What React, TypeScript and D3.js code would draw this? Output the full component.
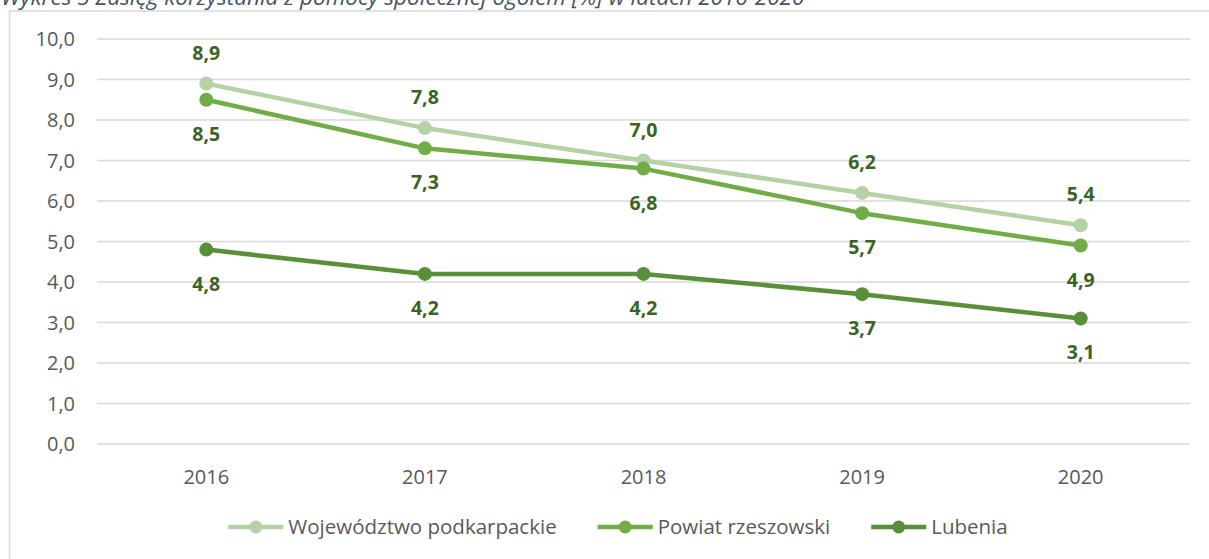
import React, { useEffect, useRef, useState } from "react";
import * as d3 from "d3";

const years = ["2016", "2017", "2018", "2019", "2020"];
const wojewodztwo = [8.9, 7.8, 7.0, 6.2, 5.4];
const powiat = [8.5, 7.3, 6.8, 5.7, 4.9];
const lubenia = [4.8, 4.2, 4.2, 3.7, 3.1];
const seriesNames = ["Województwo podkarpackie", "Powiat rzeszowski", "Lubenia"];
const yTicks = [0, 1, 2, 3, 4, 5, 6, 7, 8, 9, 10];
const title = "Wykres 5 Zasięg korzystania z pomocy społecznej ogółem [%] w latach 2016-2020";

const W = 1209;
const H = 559;
const font = "'Open Sans', Lato, sans-serif";

const series = [
  { name: seriesNames[0], values: wojewodztwo, color: "#b4d2a6", labelPos: "above" },
  { name: seriesNames[1], values: powiat, color: "#70ad47", labelPos: "below" },
  { name: seriesNames[2], values: lubenia, color: "#598f38", labelPos: "below" },
];

const fmt = (v: number) => v.toFixed(1).replace(".", ",");

const App = () => {
  const x = d3.scaleBand().domain(years).range([97, 1190]);
  const y = d3.scaleLinear().domain([0, 10]).range([444, 39]);
  const cx = (yr: string) => (x(yr) as number) + x.bandwidth() / 2;

  const line = d3
    .line<number>()
    .x((_, i) => cx(years[i]))
    .y((d) => y(d));

  const legendRef = useRef<SVGGElement>(null);
  const [legendX, setLegendX] = useState<number[]>([223, 601, 877]);

  useEffect(() => {
    // lay out legend items from measured text widths (legend sits a bit left of plot centre)
    if (!legendRef.current) return;
    const texts = Array.from(legendRef.current.querySelectorAll("text.leg")) as SVGTextElement[];
    const widths = texts.map((t) => t.getComputedTextLength());
    const marker = 55;
    const gap = 41;
    const total = d3.sum(widths) + (marker + 5) * 3 + gap * 2;
    let pos = 618 - total / 2;
    const xs: number[] = [];
    widths.forEach((w) => {
      xs.push(pos);
      pos += marker + 5 + w + gap;
    });
    setLegendX(xs);
  }, []);

  return (
    <div style={{ position: "absolute", left: 0, top: 0 }}>
      <svg width={W} height={H} style={{ display: "block", background: "#fff" }}>
        <text x={1} y={5} fontFamily={font} fontStyle="italic" fontSize={22.5} fill="#44546a">
          {title}
        </text>
        <line x1={9.5} y1={11} x2={W} y2={11} stroke="#d9d9d9" strokeWidth={1.5} />
        <line x1={9.5} y1={11} x2={9.5} y2={H} stroke="#d9d9d9" strokeWidth={1.5} />

        {yTicks.map((t) => (
          <g key={t}>
            <line x1={97} x2={1190} y1={y(t)} y2={y(t)} stroke="#d9d9d9" strokeWidth={1.5} />
            <text
              x={75}
              y={y(t) + 7}
              textAnchor="end"
              fontFamily={font}
              fontSize={20}
              fill="#595959"
            >
              {fmt(t)}
            </text>
          </g>
        ))}

        {years.map((yr) => (
          <text
            key={yr}
            x={cx(yr)}
            y={484}
            textAnchor="middle"
            fontFamily={font}
            fontSize={20}
            fill="#595959"
          >
            {yr}
          </text>
        ))}

        {series.map((s) => (
          <g key={s.name}>
            <path d={line(s.values) || ""} fill="none" stroke={s.color} strokeWidth={4.5} strokeLinejoin="round" />
            {s.values.map((v, i) => (
              <circle key={i} cx={cx(years[i])} cy={y(v)} r={7} fill={s.color} />
            ))}
          </g>
        ))}

        {series.map((s) =>
          s.values.map((v, i) => (
            <text
              key={s.name + i}
              x={cx(years[i])}
              y={s.labelPos === "above" ? y(v) - 24 : y(v) + 41}
              textAnchor="middle"
              fontFamily={font}
              fontWeight="bold"
              fontSize={19.5}
              fill="#3b6324"
            >
              {fmt(v)}
            </text>
          ))
        )}

        <g ref={legendRef}>
          {series.map((s, i) => (
            <g key={s.name} transform={`translate(${legendX[i]},527)`}>
              <line x1={0} x2={55} y1={0} y2={0} stroke={s.color} strokeWidth={4.5} />
              <circle cx={27.5} cy={0} r={6.5} fill={s.color} />
              <text className="leg" x={60} y={7} fontFamily={font} fontSize={20.5} fill="#595959">
                {s.name}
              </text>
            </g>
          ))}
        </g>
      </svg>
    </div>
  );
};

export default App;
